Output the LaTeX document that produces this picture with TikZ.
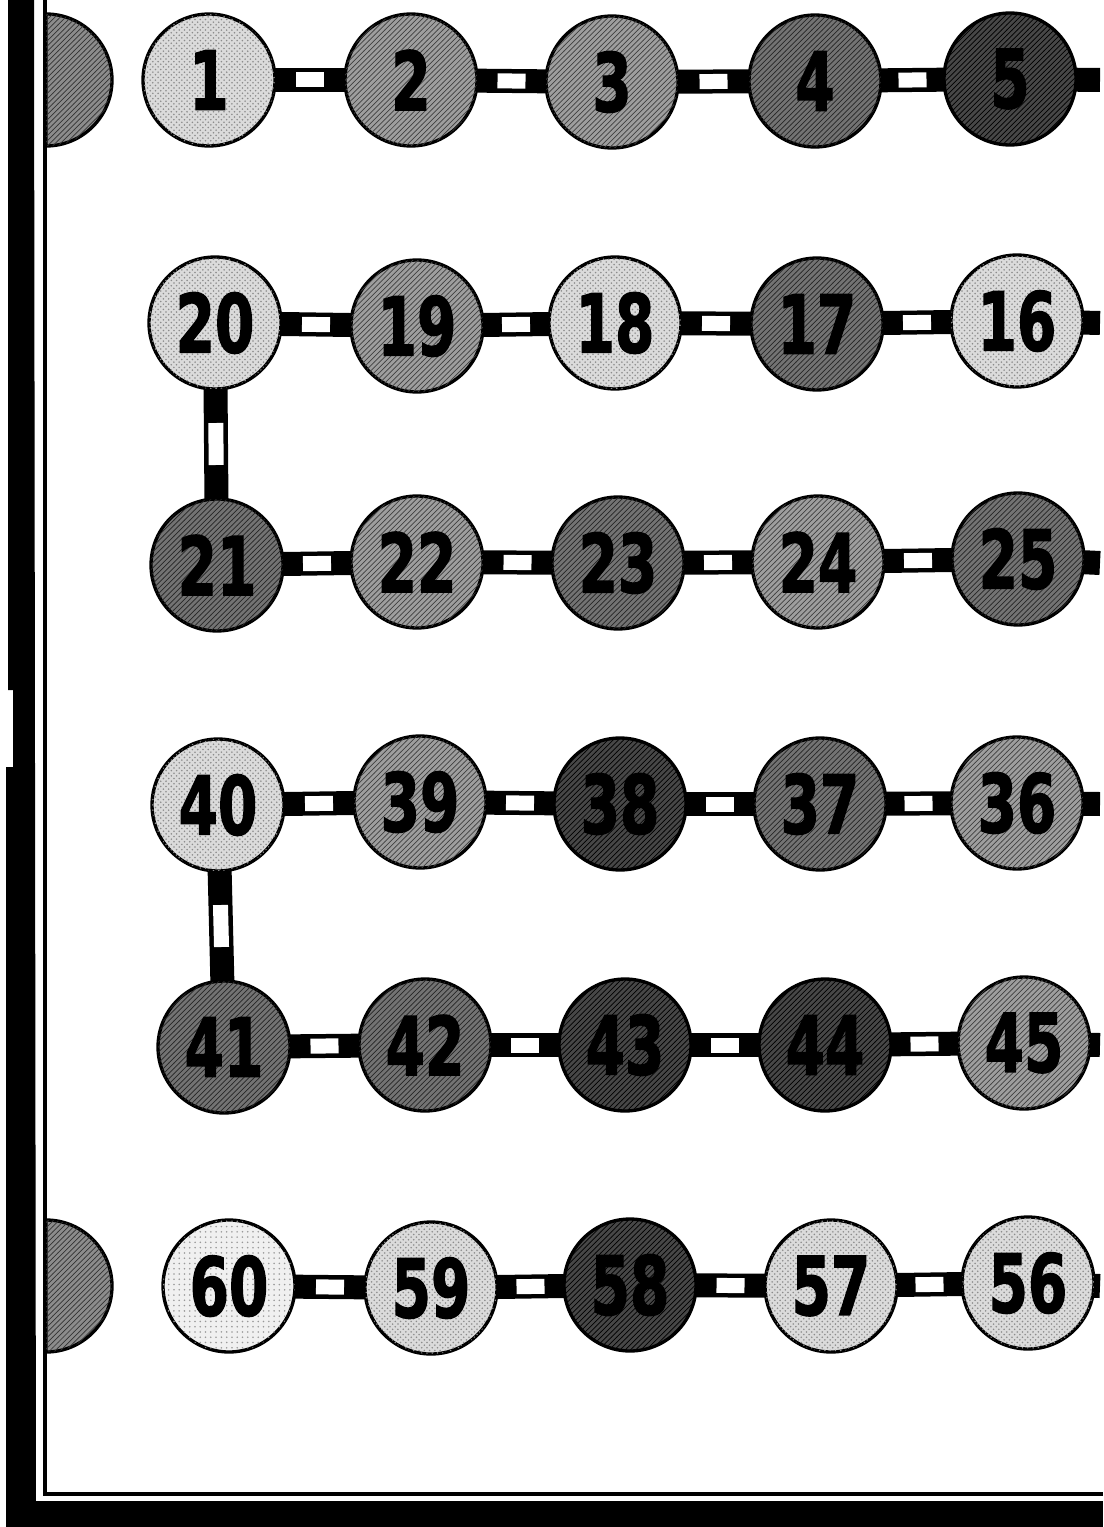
\documentclass[tikz,border=0pt]{standalone}
\usepackage{fontspec}
\setmainfont{DejaVu Sans}
\newfontfamily\zahlfont[BoldFeatures={FakeBold=2}]{DejaVu Sans}
\usetikzlibrary{backgrounds,patterns}

% ---------- Stile (Spielfelder und Stege) ----------
\tikzset{
  feld/.style={circle, draw=black, line width=1.9pt, minimum size=2.64cm, inner sep=0pt,
    font=\zahlfont\fontsize{46}{46}\selectfont\bfseries},
  feldHell/.style={feld, fill=black!14, postaction={pattern=crosshatch dots, pattern color=black!45}},
  feldWeiss/.style={feld, fill=black!6, postaction={pattern=dots, pattern color=black!40}},
  feldMittel/.style={feld, fill=black!38, postaction={pattern=north east lines, pattern color=black!75}},
  feldDunkel/.style={feld, fill=black!55, postaction={pattern=north east lines, pattern color=black!85}},
  feldTief/.style={feld, fill=black!72, postaction={pattern=north east lines, pattern color=black}},
  halbfeld/.style={draw=black, line width=1.9pt, fill=black!45, postaction={pattern=north east lines, pattern color=black!80}},
  steg/.style={line width=0.48cm, black},
  luecke/.style={fill=white, inner sep=0pt, minimum width=0.56cm, minimum height=0.3cm, sloped},
  lueckeLang/.style={luecke, minimum width=0.84cm}
}
\newcommand{\zahl}[1]{\scalebox{0.7}[1]{#1}}

\begin{document}
\begin{tikzpicture}[x=0.02cm, y=-0.02cm]

% ---------- Parameter (Zeilenhoehen) ----------
\def\yA{80}
\def\yB{323}
\def\yC{563}
\def\yD{804}
\def\yE{1045}
\def\yF{1286}
\def\xRand{1100}

% Gesamt-Boundingbox festlegen
\useasboundingbox (0,0) rectangle (1103,1527);

% ---------- Rahmen links und unten ----------
\fill[black] (8,0) -- (34,0) -- (36,1527) -- (6,1527) -- (6,767) -- (13,767) -- (13,690) -- (8,690) -- cycle;
\fill[black] (6,1501) rectangle (1103,1527);
\draw[line width=0.08cm] (45,0) -- (45,1494) -- (1103,1494);

% halbe Felder am Rand
\filldraw[halbfeld] (46,\yA-66) arc[start angle=-90, end angle=90, radius=66] -- cycle;
\filldraw[halbfeld] (46,\yF-66) arc[start angle=-90, end angle=90, radius=66] -- cycle;

% ===================
% Zeile 1: 1 -> 5
% ===================
\node[feldHell]   (c1) at (209,\yA) {\zahl{1}};
\node[feldMittel] (c2) at (411,\yA) {\zahl{2}};
\node[feldMittel] (c3) at (612,\yA+2) {\zahl{3}};
\node[feldDunkel] (c4) at (815,\yA+1) {\zahl{4}};
\node[feldTief]   (c5) at (1010,\yA-1) {\zahl{5}};
\coordinate (eA) at (\xRand,\yA);

% ===================
% Zeile 2: 20 <- 16
% ===================
\node[feldHell]   (c20) at (215,\yB) {\zahl{20}};
\node[feldMittel] (c19) at (417,\yB+3) {\zahl{19}};
\node[feldHell]   (c18) at (615,\yB) {\zahl{18}};
\node[feldDunkel] (c17) at (817,\yB+1) {\zahl{17}};
\node[feldHell]   (c16) at (1017,\yB-2) {\zahl{16}};
\coordinate (eB) at (\xRand,\yB);

% ===================
% Zeile 3: 21 -> 25
% ===================
\node[feldDunkel] (c21) at (217,\yC+2) {\zahl{21}};
\node[feldMittel] (c22) at (417,\yC-1) {\zahl{22}};
\node[feldDunkel] (c23) at (618,\yC) {\zahl{23}};
\node[feldMittel] (c24) at (818,\yC-1) {\zahl{24}};
\node[feldDunkel] (c25) at (1018,\yC-4) {\zahl{25}};
\coordinate (eC) at (\xRand,\yC);

% ===================
% Zeile 4: 40 <- 36
% ===================
\node[feldHell]   (c40) at (218,\yD+1) {\zahl{40}};
\node[feldMittel] (c39) at (420,\yD-2) {\zahl{39}};
\node[feldTief]   (c38) at (620,\yD) {\zahl{38}};
\node[feldDunkel] (c37) at (820,\yD) {\zahl{37}};
\node[feldMittel] (c36) at (1017,\yD-1) {\zahl{36}};
\coordinate (eD) at (\xRand,\yD);

% ===================
% Zeile 5: 41 -> 45
% ===================
\node[feldDunkel] (c41) at (224,\yE+2) {\zahl{41}};
\node[feldDunkel] (c42) at (425,\yE) {\zahl{42}};
\node[feldTief]   (c43) at (625,\yE) {\zahl{43}};
\node[feldTief]   (c44) at (825,\yE) {\zahl{44}};
\node[feldMittel] (c45) at (1024,\yE-2) {\zahl{45}};
\coordinate (eE) at (\xRand,\yE);

% ===================
% Zeile 6: 60 <- 56
% ===================
\node[feldWeiss]  (c60) at (229,\yF) {\zahl{60}};
\node[feldHell]   (c59) at (431,\yF+2) {\zahl{59}};
\node[feldTief]   (c58) at (630,\yF-1) {\zahl{58}};
\node[feldHell]   (c57) at (831,\yF) {\zahl{57}};
\node[feldHell]   (c56) at (1028,\yF-3) {\zahl{56}};
\coordinate (eF) at (\xRand,\yF);

% ---------- Stege (hinter den Feldern) ----------
\begin{pgfonlayer}{background}
  \draw[steg] (c1.center) -- node[luecke] {} (c2.center);
  \draw[steg] (c2.center) -- node[luecke] {} (c3.center);
  \draw[steg] (c3.center) -- node[luecke] {} (c4.center);
  \draw[steg] (c4.center) -- node[luecke] {} (c5.center);
  \draw[steg] (c5.center) -- (eA);

  \draw[steg] (c20.center) -- node[luecke] {} (c19.center);
  \draw[steg] (c19.center) -- node[luecke] {} (c18.center);
  \draw[steg] (c18.center) -- node[luecke] {} (c17.center);
  \draw[steg] (c17.center) -- node[luecke] {} (c16.center);
  \draw[steg] (c16.center) -- (eB);
  \draw[steg] (c20.center) -- node[lueckeLang] {} (c21.center);

  \draw[steg] (c21.center) -- node[luecke] {} (c22.center);
  \draw[steg] (c22.center) -- node[luecke] {} (c23.center);
  \draw[steg] (c23.center) -- node[luecke] {} (c24.center);
  \draw[steg] (c24.center) -- node[luecke] {} (c25.center);
  \draw[steg] (c25.center) -- (eC);

  \draw[steg] (c40.center) -- node[luecke] {} (c39.center);
  \draw[steg] (c39.center) -- node[luecke] {} (c38.center);
  \draw[steg] (c38.center) -- node[luecke] {} (c37.center);
  \draw[steg] (c37.center) -- node[luecke] {} (c36.center);
  \draw[steg] (c36.center) -- (eD);
  \draw[steg] (c40.center) -- node[lueckeLang] {} (c41.center);

  \draw[steg] (c41.center) -- node[luecke] {} (c42.center);
  \draw[steg] (c42.center) -- node[luecke] {} (c43.center);
  \draw[steg] (c43.center) -- node[luecke] {} (c44.center);
  \draw[steg] (c44.center) -- node[luecke] {} (c45.center);
  \draw[steg] (c45.center) -- (eE);

  \draw[steg] (c60.center) -- node[luecke] {} (c59.center);
  \draw[steg] (c59.center) -- node[luecke] {} (c58.center);
  \draw[steg] (c58.center) -- node[luecke] {} (c57.center);
  \draw[steg] (c57.center) -- node[luecke] {} (c56.center);
  \draw[steg] (c56.center) -- (eF);
\end{pgfonlayer}

\end{tikzpicture}
\end{document}
